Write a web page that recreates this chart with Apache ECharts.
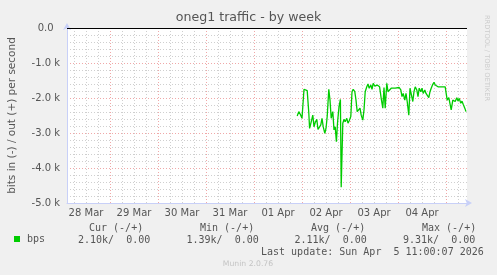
<!DOCTYPE html>
<html>
<head>
<meta charset="utf-8">
<script src="https://cdn.jsdelivr.net/npm/echarts@6/dist/echarts.min.js"></script>
<style>
html,body{margin:0;padding:0;background:#F0F0F0;}
#chart{width:497px;height:275px;}
</style>
</head>
<body>
<div id="chart"></div>
<script>
// time axis: hours since 28 Mar 00:00
var dayLabels = ['28 Mar','29 Mar','30 Mar','31 Mar','01 Apr','02 Apr','03 Apr','04 Apr'];
var dayLabelHours = [12, 36, 60, 84, 108, 132, 156, 180];
var majorGridHours = [24, 48, 72, 96, 120, 144, 168, 192];
var minorGridHours = [6,12,18,30,36,42,54,60,66,78,84,90,102,108,114,126,132,138,150,156,162,174,180,186,198];
var yTicks = [0, -1000, -2000, -3000, -4000, -5000];

// bps series (in = negative), hours and values
var hours = [117.6,118.4,119.2,120,121,122,122.6,123.4,123.8,124.6,125.4,126,126.6,127.4,128,128.6,129.4,130,130.6,131.4,132,132.6,133.4,134,134.6,135.4,136,136.6,137.2,137.8,138.5,139.2,139.6,140.4,141,141.6,142.4,143,143.6,144.4,145,145.6,146.4,147,147.6,148.4,149,149.6,150.4,151,151.6,152.4,153,153.6,154.4,155,155.6,156.4,157,157.6,158,158.8,159.6,160.4,161,161.6,162.4,163,163.6,164.6,165.6,166.6,167.6,168.6,169.4,170,170.6,171.4,172,172.6,173.4,174,174.6,175.4,176,176.6,177.4,178,178.6,179.4,180,180.6,181.4,182,182.6,183.4,184,184.6,185.4,186,186.6,187.4,188,189,190,191,191.6,192.2,192.6,193.4,194,194.6,195.4,196,196.6,197.4,198,198.6,199.4,200,200.6,201.4,202];
var bps = [-2514,-2390,-2470,-2580,-1750,-1750,-1790,-2430,-2870,-2680,-2490,-2820,-2700,-2610,-2900,-2930,-2770,-2580,-2820,-3010,-2870,-2530,-1750,-2060,-2580,-2390,-2910,-2820,-3250,-2680,-2250,-2040,-4550,-2720,-2610,-2680,-2580,-2720,-2650,-2530,-1820,-1750,-1820,-2060,-2390,-2440,-2290,-2490,-2630,-2340,-1820,-1680,-1600,-1720,-1630,-1750,-1580,-1660,-1700,-1630,-1630,-1680,-2010,-2290,-1700,-2290,-1580,-1820,-1770,-1720,-1740,-1720,-1740,-1700,-1770,-1960,-1870,-2060,-1870,-2100,-2490,-1720,-1770,-2100,-1820,-1680,-1770,-1960,-1720,-1820,-1720,-1870,-1770,-1870,-1910,-1990,-1820,-1720,-1610,-1550,-1630,-1610,-1680,-1680,-1680,-1700,-1680,-1910,-2060,-1990,-2030,-2340,-2060,-2030,-2100,-1990,-2090,-2010,-2150,-2090,-2180,-2290,-2390];

var statHeaders = ['Cur (-/+)','Min (-/+)','Avg (-/+)','Max (-/+)'];
var statValues = ['2.10k/  0.00','1.39k/  0.00','2.11k/  0.00','9.31k/  0.00'];
var lastUpdate = 'Last update: Sun Apr  5 11:00:07 2026';

var seriesData = hours.map(function(h, i){ return [h, bps[i]]; });
var mono = '10px "DejaVu Sans Mono"';
var headerX = [89, 200, 311, 422];
var valueX = [78, 186.5, 294.5, 403];

var graphics = [];
statHeaders.forEach(function(t, i){
  graphics.push({type:'text', silent:true, style:{text:t, x:headerX[i], y:228, font:mono, fill:'#555', align:'left', verticalAlign:'middle'}});
});
statValues.forEach(function(t, i){
  graphics.push({type:'text', silent:true, style:{text:t, x:valueX[i], y:240, font:mono, fill:'#555', align:'left', verticalAlign:'middle'}});
});
graphics.push({type:'text', silent:true, style:{text:lastUpdate, x:261, y:252, font:mono, fill:'#555', align:'left', verticalAlign:'middle'}});
graphics.push({type:'text', silent:true, style:{text:'Munin 2.0.76', x:248, y:264, font:'7.7px "DejaVu Sans"', fill:'#c4c4c4', align:'center', verticalAlign:'middle'}});
graphics.push({type:'text', silent:true, x:487, y:58, rotation:-Math.PI/2, style:{text:'RRDTOOL / TOBI OETIKER', x:0, y:0, font:'6.7px "DejaVu Sans"', fill:'#cccccc', align:'center', verticalAlign:'middle'}});

var chart = echarts.init(document.getElementById('chart'), null, {renderer:'canvas'});
chart.setOption({
  animation:false,
  backgroundColor:'#F0F0F0',
  graphic:graphics,
  title:{text:'oneg1 traffic - by week', left:'center', top:11, padding:0,
    textStyle:{fontFamily:'DejaVu Sans', fontSize:12.6, fontWeight:'normal', color:'#555'}},
  legend:{data:['bps'], left:14, top:234, padding:0, icon:'rect', itemWidth:6, itemHeight:6,
    textStyle:{fontFamily:'DejaVu Sans Mono', fontSize:10, color:'#555', padding:[0,0,0,2]}},
  grid:{left:67, right:30, top:28, bottom:72, show:true, backgroundColor:'#FFFFFF', borderWidth:0, outerBoundsMode:'none'},
  xAxis:{type:'value', min:2.5, max:202.5,
    axisLine:{show:true, onZero:false, lineStyle:{color:'#c8d0f8', width:1}, symbol:['none','arrow'], symbolSize:[6,7], symbolOffset:[0,5]},
    axisTick:{show:false},
    splitLine:{show:false},
    axisLabel:{customValues:dayLabelHours, margin:5, fontFamily:'DejaVu Sans', fontSize:10, color:'#555',
      formatter:function(v){ var i = dayLabelHours.indexOf(v); return i >= 0 ? dayLabels[i] : ''; }}
  },
  yAxis:{type:'value', min:-5000, max:0, interval:1000,
    name:'bits in (-) / out (+) per second', nameLocation:'middle', nameGap:49, nameRotate:90,
    nameTextStyle:{fontFamily:'DejaVu Sans', fontSize:10.5, color:'#555'},
    axisLine:{show:true, onZero:false, lineStyle:{color:'#c8d0f8', width:1}, symbol:['none','arrow'], symbolSize:[6,7], symbolOffset:[0,5]},
    axisTick:{show:false},
    axisLabel:{margin:7, fontFamily:'DejaVu Sans', fontSize:10, color:'#555',
      formatter:function(v){ return v === 0 ? '0.0  ' : (v/1000).toFixed(1) + ' k'; }},
    splitLine:{show:true, lineStyle:{color:'#f0a8a8', type:[1,2], width:1}},
    minorTick:{show:false, splitNumber:5},
    minorSplitLine:{show:true, lineStyle:{color:'#cfcfcf', type:[1,2], width:1}}
  },
  series:[
    {name:'gridMinor', type:'line', data:[], silent:true,
      markLine:{silent:true, symbol:'none', label:{show:false}, animation:false,
        lineStyle:{color:'#cfcfcf', type:[1,2], width:1},
        data:minorGridHours.map(function(h){ return {xAxis:h}; })}},
    {name:'gridMajor', type:'line', data:[], silent:true,
      markLine:{silent:true, symbol:'none', label:{show:false}, animation:false,
        lineStyle:{color:'#f0a8a8', type:[1,2], width:1},
        data:majorGridHours.map(function(h){ return {xAxis:h}; })}},
    {name:'zero', type:'line', data:[], silent:true,
      markLine:{silent:true, symbol:'none', label:{show:false}, animation:false,
        lineStyle:{color:'#000000', type:'solid', width:1},
        data:[{yAxis:0}]}},
    {name:'bps', type:'line', data:seriesData, showSymbol:false, symbol:'none',
      itemStyle:{color:'#00CC00'}, lineStyle:{color:'#00CC00', width:1.3}, z:5}
  ]
});
</script>
</body>
</html>
